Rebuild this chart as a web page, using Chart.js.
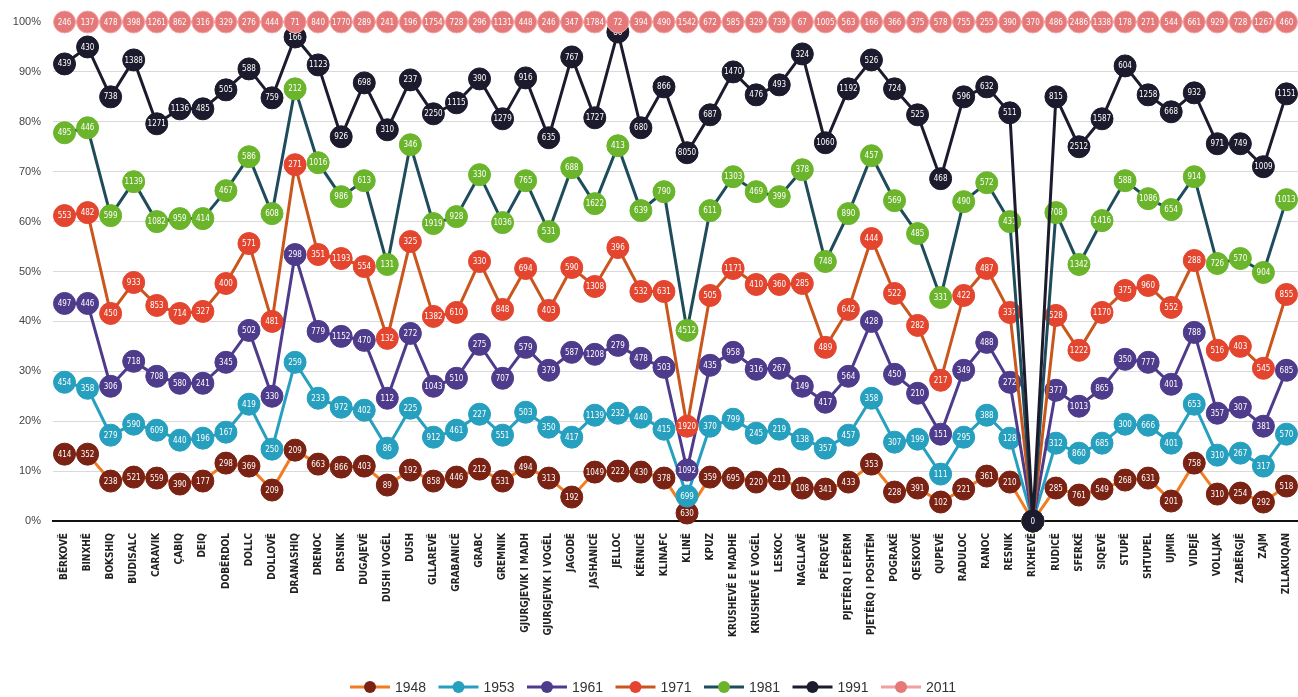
<!DOCTYPE html>
<html>
<head>
<meta charset="utf-8">
<script src="https://cdn.jsdelivr.net/npm/chart.js@4.4.1/dist/chart.umd.min.js"></script>
<style>
  html, body { margin: 0; padding: 0; background: #fff; }
  #wrap { width: 1298px; height: 697px; }
</style>
</head>
<body>
<div id="wrap"><canvas id="myChart"></canvas></div>
<script>
const villages = ['BËRKOVË', 'BINXHË', 'BOKSHIQ', 'BUDISALC', 'CARAVIK', 'ÇABIQ', 'DEIQ', 'DOBËRDOL', 'DOLLC', 'DOLLOVË',
  'DRANASHIQ', 'DRENOC', 'DRSNIK', 'DUGAJEVË', 'DUSHI VOGËL', 'DUSH', 'GLLAREVË', 'GRABANICË', 'GRABC', 'GREMNIK',
  'GJURGJEVIK I MADH', 'GJURGJEVIK I VOGËL', 'JAGODË', 'JASHANICË', 'JELLOC', 'KËRNICË', 'KLINAFC', 'KLINË', 'KPUZ', 'KRUSHEVË E MADHE',
  'KRUSHEVË E VOGËL', 'LESKOC', 'NAGLLAVË', 'PËRQEVË', 'PJETËRQ I EPËRM', 'PJETËRQ I POSHTËM', 'POGRAKË', 'QESKOVË', 'QUPEVË', 'RADULOC',
  'RANOC', 'RESNIK', 'RIXHEVË', 'RUDICË', 'SFERKË', 'SIQEVË', 'STUPË', 'SHTUPEL', 'UJMIR', 'VIDEJË',
  'VOLLJAK', 'ZABËRGJË', 'ZAJM', 'ZLLAKUQAN'];

const years = ['1948', '1953', '1961', '1971', '1981', '1991', '2011'];

// position on the 0-100% axis
const pos1948 = [13.4, 13.4, 8, 8.8, 8.6, 7.4, 8, 11.6, 11, 6.2, 14.2, 11.4, 10.8, 11, 7.2, 10.2, 8, 8.8, 10.4, 8,
  10.8, 8.6, 4.8, 9.8, 10, 9.8, 8.6, 1.6, 8.8, 8.6, 7.8, 8.4, 6.6, 6.4, 7.8, 11.4, 5.8, 6.6, 3.8, 6.4,
  9, 7.8, 0, 6.6, 5.2, 6.4, 8.2, 8.6, 4, 11.6, 5.4, 5.6, 3.8, 7];
const pos1953 = [27.8, 26.6, 17.2, 19.4, 18.2, 16.2, 16.6, 17.8, 23.4, 14.4, 31.8, 24.6, 22.8, 22.2, 14.6, 22.6, 16.8, 18.2, 21.4, 17.2,
  21.8, 18.8, 16.8, 21.2, 21.6, 20.8, 18.4, 5, 19, 20.4, 17.6, 18.4, 16.4, 14.6, 17.2, 24.6, 15.8, 16.4, 9.4, 16.8,
  21.2, 16.6, 0, 15.6, 13.6, 15.6, 19.4, 19.2, 15.6, 23.4, 13.2, 13.6, 11, 17.4];
const pos1961 = [43.6, 43.6, 27, 32, 29, 27.6, 27.6, 31.8, 38.2, 25, 53.4, 38, 37, 36.2, 24.6, 37.6, 27, 28.6, 35.4, 28.6,
  34.8, 30.2, 33.8, 33.4, 35.2, 32.6, 30.8, 10.2, 31.2, 33.8, 30.4, 30.6, 27, 23.8, 29, 40, 29.4, 25.6, 17.4, 30.2,
  35.8, 27.8, 0, 26.2, 23, 26.6, 32.4, 31.8, 27.4, 37.8, 21.6, 22.8, 19, 30.2];
const pos1971 = [61.2, 61.8, 41.6, 47.8, 43.2, 41.6, 42, 47.6, 55.6, 40, 71.4, 53.4, 52.6, 51, 36.6, 56, 41, 41.8, 52, 42.4,
  50.6, 42.2, 50.8, 47, 54.8, 46, 46, 19, 45.2, 50.6, 47.4, 47.4, 47.6, 34.8, 42.4, 56.6, 45.6, 39.2, 28.2, 45.2,
  50.6, 41.8, 0, 41.2, 34.2, 41.8, 46.2, 47.2, 42.8, 52.2, 34.2, 35, 30.6, 45.4];
const pos1981 = [77.8, 78.8, 61.2, 68, 60, 60.6, 60.6, 66.2, 73, 61.6, 86.6, 71.8, 65, 68.2, 51.4, 75.4, 59.6, 61, 69.4, 59.8,
  68.2, 58, 70.8, 63.6, 75.2, 62.2, 66, 38.2, 62.2, 69, 66, 65, 70.4, 52, 61.6, 73.2, 64.2, 57.6, 44.8, 64,
  67.8, 60, 0, 61.8, 51.4, 60.2, 68.2, 64.6, 62.4, 69, 51.6, 52.6, 49.8, 64.4];
const pos1991 = [91.6, 95, 85, 92.4, 79.6, 82.6, 82.6, 86.4, 90.6, 84.8, 97, 91.4, 77, 87.8, 78.4, 88.4, 81.6, 83.8, 88.6, 80.6,
  88.8, 76.8, 93, 80.8, 98, 78.8, 87, 73.8, 81.4, 90, 85.4, 87.4, 93.6, 75.8, 86.6, 92.4, 86.6, 81.4, 68.6, 85,
  87, 81.8, 0, 85, 75, 80.6, 91.2, 85.4, 82, 85.8, 75.6, 75.6, 71, 85.6];
const pos2011 = [100, 100, 100, 100, 100, 100, 100, 100, 100, 100, 100, 100, 100, 100, 100, 100, 100, 100, 100, 100,
  100, 100, 100, 100, 100, 100, 100, 100, 100, 100, 100, 100, 100, 100, 100, 100, 100, 100, 100, 100,
  100, 100, 100, 100, 100, 100, 100, 100, 100, 100, 100, 100, 100, 100];

// population written inside each marker
const lbl1948 = [414, 352, 238, 521, 559, 390, 177, 298, 369, 209, 209, 663, 866, 403, 89, 192, 858, 446, 212, 531,
  494, 313, 192, 1049, 222, 430, 378, 630, 359, 695, 220, 211, 108, 341, 433, 353, 228, 391, 102, 221,
  361, 210, 0, 285, 761, 549, 268, 631, 201, 758, 310, 254, 292, 518];
const lbl1953 = [454, 358, 279, 590, 609, 440, 196, 167, 419, 250, 259, 233, 972, 402, 86, 225, 912, 461, 227, 551,
  503, 350, 417, 1139, 232, 440, 415, 699, 370, 799, 245, 219, 138, 357, 457, 358, 307, 199, 111, 295,
  388, 128, 0, 312, 860, 685, 300, 666, 401, 653, 310, 267, 317, 570];
const lbl1961 = [497, 446, 306, 718, 708, 580, 241, 345, 502, 330, 298, 779, 1152, 470, 112, 272, 1043, 510, 275, 707,
  579, 379, 587, 1208, 279, 478, 503, 1092, 435, 958, 316, 267, 149, 417, 564, 428, 450, 210, 151, 349,
  488, 272, 0, 377, 1013, 865, 350, 777, 401, 788, 357, 307, 381, 685];
const lbl1971 = [553, 482, 450, 933, 853, 714, 327, 400, 571, 481, 271, 351, 1193, 554, 132, 325, 1382, 610, 330, 848,
  694, 403, 590, 1308, 396, 532, 631, 1920, 505, 1171, 410, 360, 285, 489, 642, 444, 522, 282, 217, 422,
  487, 337, 0, 528, 1222, 1170, 375, 960, 552, 288, 516, 403, 545, 855];
const lbl1981 = [495, 446, 599, 1139, 1082, 959, 414, 467, 586, 608, 212, 1016, 986, 613, 131, 346, 1919, 928, 330, 1036,
  765, 531, 688, 1622, 413, 639, 790, 4512, 611, 1303, 469, 399, 378, 748, 890, 457, 569, 485, 331, 490,
  572, 431, 0, 708, 1342, 1416, 588, 1086, 654, 914, 726, 570, 904, 1013];
const lbl1991 = [439, 430, 738, 1388, 1271, 1136, 485, 505, 588, 759, 166, 1123, 926, 698, 310, 237, 2250, 1115, 390, 1279,
  916, 635, 767, 1727, 86, 680, 866, 8050, 687, 1470, 476, 493, 324, 1060, 1192, 526, 724, 525, 468, 596,
  632, 511, 0, 815, 2512, 1587, 604, 1258, 668, 932, 971, 749, 1009, 1151];
const lbl2011 = [246, 137, 478, 398, 1261, 862, 316, 329, 276, 444, 71, 840, 1770, 289, 241, 196, 1754, 728, 296, 1131,
  448, 246, 347, 1784, 72, 394, 490, 1542, 672, 585, 329, 739, 67, 1005, 563, 166, 366, 375, 578, 755,
  255, 390, 370, 486, 2486, 1338, 178, 271, 544, 661, 929, 728, 1267, 460];

const allPos = [pos1948, pos1953, pos1961, pos1971, pos1981, pos1991, pos2011];
const allLbl = [lbl1948, lbl1953, lbl1961, lbl1971, lbl1981, lbl1991, lbl2011];
const markerColors = ['#7a2214', '#26a0be', '#4e3b8b', '#e4452f', '#6bb52c', '#1c1b2d', '#e57878'];
const lineColors = ['#f07d22', '#26a0be', '#4e3b8b', '#c9561c', '#1f4c5c', '#1c1b2d', '#f0a0a0'];

// numbers inside the markers
const pointLabels = {
  id: 'pointLabels',
  afterDatasetDraw(chart, args) {
    const ds = chart.data.datasets[args.index];
    const ctx = chart.ctx;
    ctx.save();
    ctx.font = '8px "Liberation Sans Narrow", "DejaVu Sans Condensed", sans-serif';
    ctx.fillStyle = '#ffffff';
    ctx.textAlign = 'center';
    ctx.textBaseline = 'middle';
    args.meta.data.forEach((pt, i) => {
      ctx.fillText(String(ds.popLabels[i]), pt.x, pt.y + 0.5);
    });
    ctx.restore();
  }
};

// legend row at the bottom: line + dot + year
const yearLegend = {
  id: 'yearLegend',
  afterDraw(chart) {
    const ctx = chart.ctx;
    const y = 687;
    ctx.save();
    ctx.font = '14px "Liberation Sans", Arial, sans-serif';
    ctx.textBaseline = 'middle';
    ctx.textAlign = 'left';
    chart.data.datasets.forEach((d, i) => {
      const x0 = 350 + i * 88.5;
      ctx.strokeStyle = lineColors[i];
      ctx.lineWidth = 3;
      ctx.beginPath(); ctx.moveTo(x0, y); ctx.lineTo(x0 + 40, y); ctx.stroke();
      ctx.fillStyle = markerColors[i];
      ctx.beginPath(); ctx.arc(x0 + 20, y, 6, 0, Math.PI * 2); ctx.fill();
      ctx.fillStyle = '#333';
      ctx.fillText(d.label, x0 + 45, y + 1);
    });
    ctx.restore();
  }
};

const datasets = years.map((y, i) => ({
  label: y,
  data: allPos[i],
  popLabels: allLbl[i],
  borderColor: lineColors[i],
  borderWidth: 3,
  backgroundColor: markerColors[i],
  pointBackgroundColor: markerColors[i],
  pointBorderColor: i === 6 ? '#f3a9a9' : markerColors[i],
  pointBorderWidth: 1,
  pointRadius: 11,
  pointHoverRadius: 11,
  pointStyle: 'circle',
  tension: 0,
  clip: false,
  order: 7 - i
}));

const config = {
  type: 'line',
  data: { labels: villages, datasets: datasets },
  options: {
    responsive: true,
    maintainAspectRatio: false,
    animation: false,
    layout: { autoPadding: false, padding: { top: 22, right: 0, left: 0, bottom: 0 } },
    plugins: {
      tooltip: { enabled: false },
      legend: { display: false }
    },
    scales: {
      x: {
        offset: true,
        grid: { display: false },
        border: { display: true, color: '#111', width: 2 },
        ticks: {
          autoSkip: false,
          maxRotation: 90,
          minRotation: 90,
          color: '#222',
          padding: 4,
          font: { size: 10, weight: 'bold', family: '"Liberation Sans Narrow", "DejaVu Sans Condensed", sans-serif' }
        },
        afterFit: (scale) => {
          scale.height = 176;
          scale.paddingLeft = 0;
          scale.paddingRight = 0;
        }
      },
      y: {
        min: 0,
        max: 100,
        grid: { color: '#d9d9d9', drawTicks: false },
        border: { display: false },
        ticks: {
          stepSize: 10,
          padding: 12,
          color: '#444',
          font: { size: 11, family: 'Liberation Sans, Arial, sans-serif' },
          callback: (v) => v + '%'
        },
        afterFit: (scale) => { scale.width = 53; }
      }
    }
  },
  plugins: [pointLabels, yearLegend]
};

new Chart(document.getElementById('myChart'), config);
</script>
</body>
</html>
